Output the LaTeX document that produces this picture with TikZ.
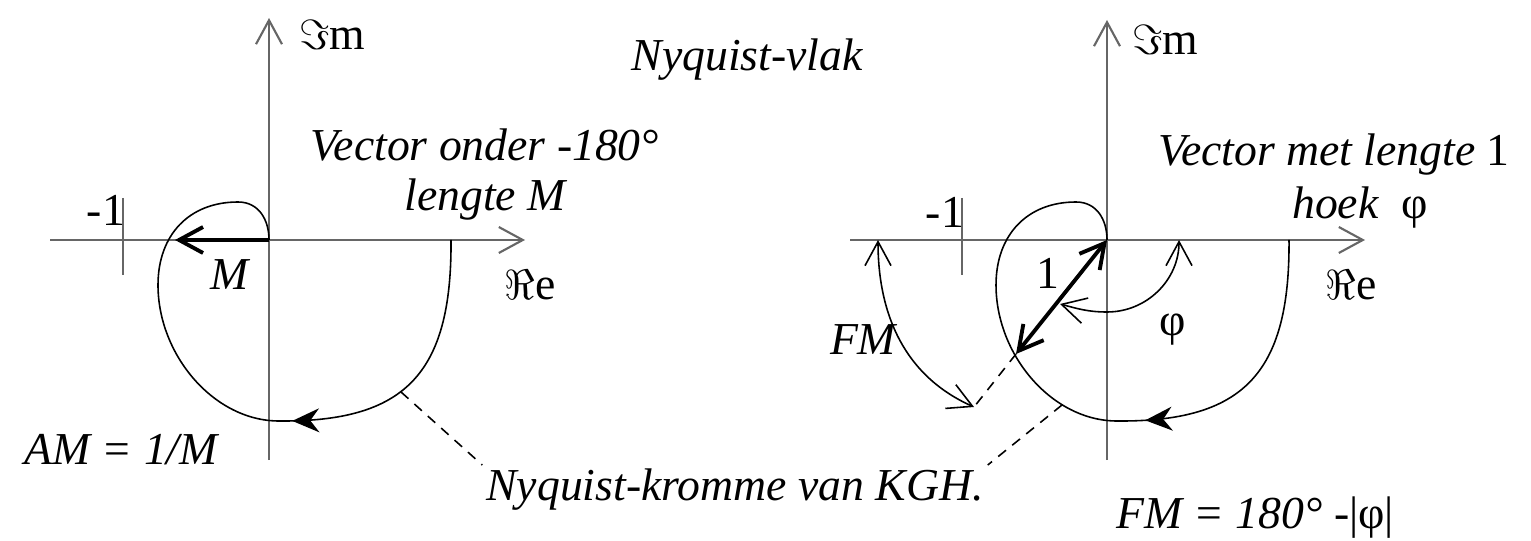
\documentclass[tikz,border=0pt]{standalone}
\usepackage{fontspec}
\setmainfont{Liberation Serif}
\usetikzlibrary{positioning,arrows.meta,decorations.markings}

\begin{document}
\begin{tikzpicture}[
  pijl/.tip={Straight Barb[length=2.4mm,width=2.6mm]},
  kop/.tip={Stealth[length=2.7mm,width=2.4mm,inset=0.9mm]},
  as/.style={black!60, line width=0.6pt, -pijl},
  streepje/.style={black!60, line width=0.6pt},
  kromme/.style={line width=0.45pt},
  vector/.style={line width=1.1pt},
  hulp/.style={line width=0.45pt, dash pattern=on 1mm off 0.8mm},
  tekst/.style={font=\fontsize{13}{15}\selectfont\itshape, inner sep=1pt},
  recht/.style={font=\fontsize{13}{15}\selectfont, inner sep=1pt}]
  \useasboundingbox (0,0) rectangle (15.31,5.40);

  % linker vlak: amplitudemarge
  \begin{scope}[shift={(2.69,3.00)}]
    \coordinate (oL) at (0,0);
    \draw[as] (0,-2.20) -- (0,2.22);
    \draw[as] (-2.19,0) -- (2.56,0);
    \draw[streepje] (-1.46,0.42) -- (-1.46,-0.35);
    \draw[kromme, postaction={decorate},
          decoration={markings, mark=at position 2.80cm with {\arrow{kop}}}]
      (1.82,0) .. controls (1.83,-1.35) and (1.35,-1.82) .. (0.10,-1.81)
      .. controls (-0.55,-1.81) and (-1.11,-1.15) .. (-1.11,-0.45)
      .. controls (-1.11,0.05) and (-0.80,0.38) .. (-0.31,0.38)
      .. controls (-0.10,0.38) and (0,0.20) .. (0,0);
    \coordinate (kL) at (1.32,-1.52);
    \coordinate (mL) at (-0.94,0);
    \draw[vector, -pijl] (oL) -- (mL);
  \end{scope}

  % rechter vlak: fasemarge
  \begin{scope}[shift={(11.07,3.00)}]
    \coordinate (oR) at (0,0);
    \draw[as] (0,-2.20) -- (0,2.20);
    \draw[as] (-2.57,0) -- (2.58,0);
    \draw[streepje] (-1.45,0.42) -- (-1.45,-0.35);
    \draw[kromme, postaction={decorate},
          decoration={markings, mark=at position 2.65cm with {\arrow{kop}}}]
      (1.82,0) .. controls (1.83,-1.35) and (1.35,-1.82) .. (0.10,-1.81)
      .. controls (-0.55,-1.81) and (-1.11,-1.15) .. (-1.11,-0.45)
      .. controls (-1.11,0.05) and (-0.80,0.38) .. (-0.31,0.38)
      .. controls (-0.10,0.38) and (0,0.20) .. (0,0);
    \coordinate (kR) at (-0.45,-1.65);
    \coordinate (eR) at (-0.91,-1.14);
    \coordinate (fmA) at (-2.29,0);
    \coordinate (fmB) at (-1.33,-1.67);
    \coordinate (phiA) at (0.72,0);
    \coordinate (phiM) at (0,-0.72);
    \coordinate (phiB) at (-0.47,-0.64);
    \draw[hulp] (eR) -- (fmB);
    \draw[vector, pijl-pijl] (oR) -- (eR);
    \draw[kromme, pijl-pijl] (phiA) to[out=-90, in=0] (phiM) to[out=180, in=-15] (phiB);
    \draw[kromme, pijl-pijl] (fmA) to[out=-90, in=156] (fmB);
  \end{scope}

  \node[recht] (imL) at (3.32,5.05) {$\Im$m};
  \node[recht] (reL) at (5.30,2.55) {$\Re$e};
  \node[recht] (minL) at (1.06,3.30) {-1};
  \node[tekst] (mlbl) at (2.30,2.65) {M};
  \node[tekst] (onder) at (4.85,3.95) {Vector onder -180°};
  \node[tekst] (lengteM) at (4.85,3.40) {lengte M};
  \node[tekst] (vlak) at (7.47,4.80) {Nyquist-vlak};
  \node[tekst] (am) at (1.21,0.90) {AM = 1/M};
  \node[tekst] (krommelbl) at (7.35,0.50) {Nyquist-kromme van KGH.};

  \node[recht] (imR) at (11.65,5.00) {$\Im$m};
  \node[recht] (reR) at (13.51,2.55) {$\Re$e};
  \node[recht] (minR) at (9.45,3.28) {-1};
  \node[tekst] (met) at (13.34,3.85) {Vector met lengte \upshape 1};
  \node[tekst] (hoek) at (13.60,3.32) {hoek\ \ \upshape φ};
  \node[tekst] (fmlbl) at (8.63,2.00) {FM};
  \node[recht] (een) at (10.48,2.67) {1};
  \node[recht] (philbl) at (11.73,2.10) {φ};
  \node[tekst] (fmform) at (12.55,0.22) {FM = 180° \upshape -|φ|};

  \draw[hulp] (kL) -- (krommelbl.north west);
  \draw[hulp] (kR) -- (krommelbl.north east);
\end{tikzpicture}
\end{document}
